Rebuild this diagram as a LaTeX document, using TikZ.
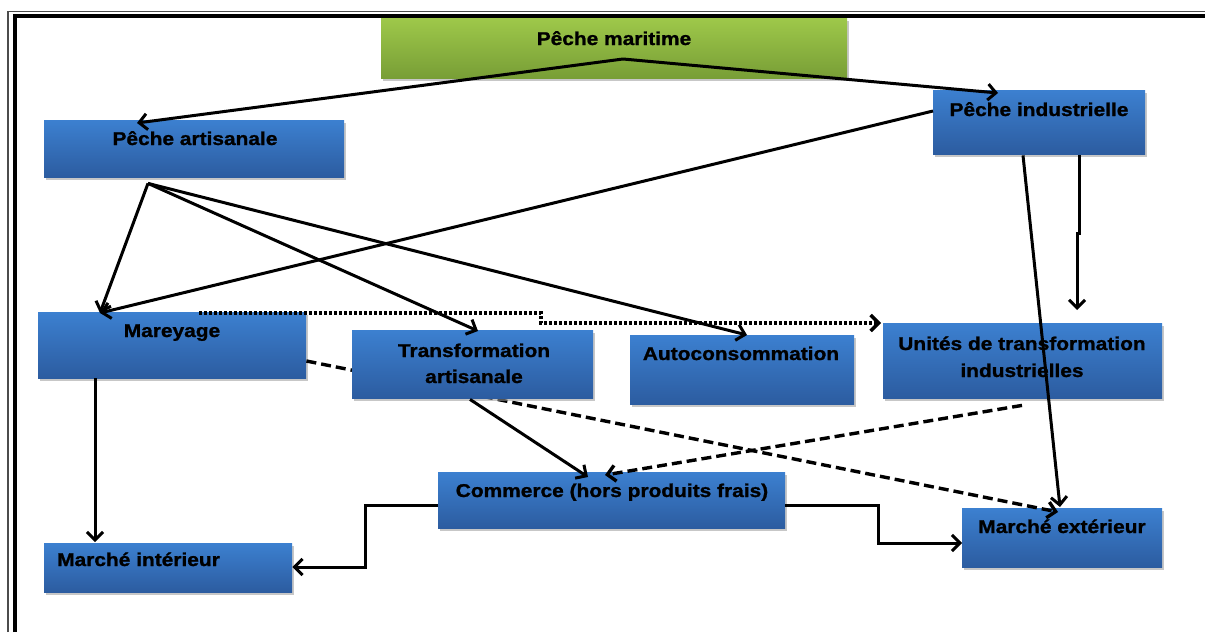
\documentclass[tikz,border=0pt]{standalone}
\usepackage{fontspec}
\setmainfont{Liberation Sans}[FakeStretch=1.13, BoldFeatures={FakeBold=1.2}]
\usetikzlibrary{arrows.meta,calc,shadows}
\definecolor{bluetop}{RGB}{60,128,208}
\definecolor{bluebot}{RGB}{44,92,160}
\definecolor{greentop}{RGB}{158,200,74}
\definecolor{greenbot}{RGB}{120,158,54}
\tikzset{
  boxbase/.style={rectangle, draw=none, inner sep=0pt, anchor=north west,
    drop shadow={shadow xshift=1.5pt, shadow yshift=-2.5pt, fill=black!40, opacity=0.55}},
  bluebox/.style={boxbase, top color=bluetop, bottom color=bluebot},
  greenbox/.style={boxbase, top color=greentop, bottom color=greenbot},
  lbl/.style={inner sep=0pt, font=\fontsize{18.5}{26.5}\selectfont\bfseries, text=black, align=center},
  tip/.style={-{Straight Barb[length=8pt,width=16pt]}},
  conn/.style={line width=3pt, black},
  arr/.style={conn, tip},
  dashline/.style={line width=3.4pt, black, dash pattern=on 10pt off 5pt, tip},
  dotline/.style={line width=3.4pt, black, dash pattern=on 2.5pt off 2.5pt, tip},
}
\begin{document}
\begin{tikzpicture}[x=1pt,y=-1pt]
\useasboundingbox (0,0) rectangle (1205,632);
% frame
\draw[line width=1.6pt, black!70] (8,632) -- (8,11.5) -- (1205,11.5);
\draw[line width=4pt, black] (15,632) -- (15,16) -- (1205,16);

% boxes
\node[greenbox, minimum width=466pt, minimum height=60pt] (pm) at (381,18) {};
\node[bluebox, minimum width=300pt, minimum height=57pt] (pa) at (44,120) {};
\node[bluebox, minimum width=212pt, minimum height=64pt] (pi) at (933,90) {};
\node[bluebox, minimum width=268pt, minimum height=66pt] (ma) at (38,312) {};
\node[bluebox, minimum width=224pt, minimum height=69pt] (au) at (630,335) {};
\node[bluebox, minimum width=279pt, minimum height=75pt] (ui) at (883,323) {};
\node[bluebox, minimum width=347pt, minimum height=56pt] (co) at (438,472) {};
\node[bluebox, minimum width=248pt, minimum height=49pt] (mi) at (44,543) {};
\node[bluebox, minimum width=200pt, minimum height=59pt] (me) at (962,508) {};

% dashed Mareyage -> Marche exterieur (passes behind Transformation artisanale)
\draw[dashline] ($(ma.north east)+(0,49)$) -- ($(me.north west)+(96,4)$);

\node[bluebox, minimum width=241pt, minimum height=68pt] (ta) at (352,330) {};

% named points
\coordinate (apex) at ($(pm.north west)+(242,41)$);
\coordinate (pafan) at ($(pa.south west)+(104,6)$);
\coordinate (jog1) at ($(pi.south west)+(146,79)$);
\coordinate (jog2) at ($(pi.south west)+(144,79)$);
\coordinate (dotstep1) at ($(ma.north west)+(503,1)$);
\coordinate (dotstep2) at ($(ma.north west)+(503,11)$);
\coordinate (lelbow1) at ($(co.north west)+(-73,33)$);
\coordinate (lelbow2) at ($(co.north west)+(-73,95)$);
\coordinate (relbow1) at ($(co.north east)+(93,33)$);
\coordinate (relbow2) at ($(co.north east)+(93,71)$);

% connectors
\draw[arr] (apex) -- ($(pa.north west)+(93,3)$);
\draw[arr] (apex) -- ($(pi.north west)+(65,3)$);
\draw[arr] ($(pi.north west)+(0,21)$) -- ($(ma.north west)+(62,1)$);
\draw[arr] (pafan) -- ($(ma.north west)+(62,1)$);
\draw[arr] (pafan) -- ($(ta.north west)+(126,1)$);
\draw[arr] (pafan) -- ($(au.north west)+(117,0)$);
\draw[arr] ($(pi.south west)+(90,1)$) -- ($(me.north west)+(98,-1)$);
\draw[arr] ($(pi.south west)+(146,1)$) -- (jog1) -- (jog2) -- ($(ui.north west)+(194,-13)$);
\draw[arr] ($(ma.south west)+(57,0)$) -- ($(mi.north west)+(51,-1)$);
\draw[dotline] ($(ma.north west)+(161,1)$) -- (dotstep1) -- (dotstep2) -- ($(ui.north west)+(-2,0)$);
\draw[dashline] ($(ui.south west)+(139,7)$) -- ($(co.north west)+(167,3)$);
\draw[arr] ($(ta.south west)+(118,1)$) -- ($(co.north west)+(150,5)$);
\draw[arr] ($(co.north west)+(0,33)$) -- (lelbow1) -- (lelbow2) -- ($(mi.north east)+(0,24)$);
\draw[arr] ($(co.north east)+(0,33)$) -- (relbow1) -- (relbow2) -- ($(me.north west)+(0,35)$);

% labels
\node[lbl, anchor=base] (pm-t) at (614,45) {Pêche maritime};
\node[lbl, anchor=base] (pa-t) at (195,145) {Pêche artisanale};
\node[lbl, anchor=base] (pi-t) at (1039,116) {Pêche industrielle};
\node[lbl, anchor=base] (ma-t) at (172,337) {Mareyage};
\node[lbl, anchor=base] (ta-t1) at (474,357) {Transformation};
\node[lbl, anchor=base] (ta-t2) at (474,383) {artisanale};
\node[lbl, anchor=base] (au-t) at (741,360) {Autoconsommation};
\node[lbl, anchor=base] (ui-t1) at (1022,350) {Unités de transformation};
\node[lbl, anchor=base] (ui-t2) at (1022,377) {industrielles};
\node[lbl, anchor=base] (co-t) at (612,497) {Commerce (hors produits frais)};
\node[lbl, anchor=base west] (mi-t) at (57,566) {Marché intérieur};
\node[lbl, anchor=base] (me-t) at (1062,533) {Marché extérieur};
\end{tikzpicture}
\end{document}
